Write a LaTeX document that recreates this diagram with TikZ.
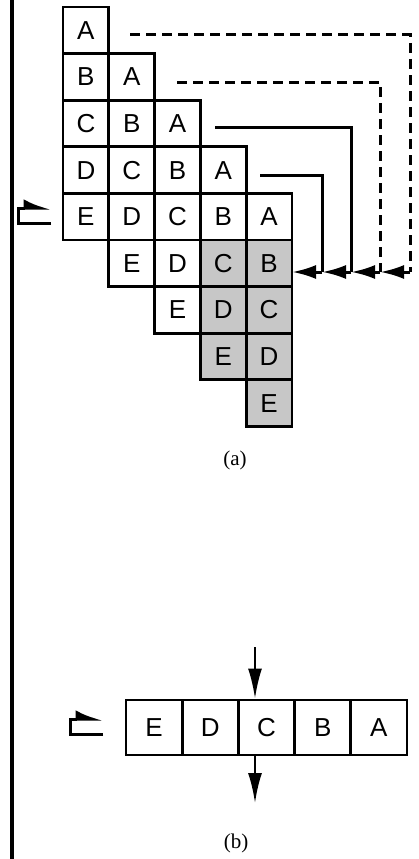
\documentclass[tikz,border=0pt]{standalone}
\usepackage{fontspec}
\setmainfont{Liberation Sans}
\newfontfamily\capfont{Liberation Serif}
\usetikzlibrary{arrows.meta}

\begin{document}
\begin{tikzpicture}[x=1pt, y=-1pt, font=\fontsize{26}{30}\selectfont]
      \tikzset{cell/.style={draw, line width=2.8pt, minimum width=45.8pt, minimum height=46.6pt, inner sep=0pt},
               shaded cell/.style={cell, fill=black!22},
               wide cell/.style={cell, minimum width=56.2pt, minimum height=55pt},
               wire/.style={line width=3pt},
               feed/.style={-{Latex[length=24pt, width=14pt]}},
               loopback/.pic={\draw[line width=3pt, -{Latex[harpoon, length=22pt, width=18pt]}] (33,15) -- (0,15) -- (0,0) -- (33,0);}}
      \useasboundingbox (0,0) rectangle (419,859);

      % Left rule
      \draw[line width=3.5pt] (12,0) -- (12,859);

      % --- (a) staircase of cells ---
      \node[cell] (a00) at (85.9,30.3) {A};

      \node[cell] (a10) at (85.9,76.9) {B};
      \node[cell] (a11) at (131.7,76.9) {A};

      \node[cell] (a20) at (85.9,123.5) {C};
      \node[cell] (a21) at (131.7,123.5) {B};
      \node[cell] (a22) at (177.5,123.5) {A};

      \node[cell] (a30) at (85.9,170.1) {D};
      \node[cell] (a31) at (131.7,170.1) {C};
      \node[cell] (a32) at (177.5,170.1) {B};
      \node[cell] (a33) at (223.3,170.1) {A};

      \node[cell] (a40) at (85.9,216.7) {E};
      \node[cell] (a41) at (131.7,216.7) {D};
      \node[cell] (a42) at (177.5,216.7) {C};
      \node[cell] (a43) at (223.3,216.7) {B};
      \node[cell] (a44) at (269.1,216.7) {A};

      \node[cell] (a51) at (131.7,263.3) {E};
      \node[cell] (a52) at (177.5,263.3) {D};
      \node[shaded cell] (a53) at (223.3,263.3) {C};
      \node[shaded cell] (a54) at (269.1,263.3) {B};

      \node[cell] (a62) at (177.5,309.9) {E};
      \node[shaded cell] (a63) at (223.3,309.9) {D};
      \node[shaded cell] (a64) at (269.1,309.9) {C};

      \node[shaded cell] (a73) at (223.3,356.5) {E};
      \node[shaded cell] (a74) at (269.1,356.5) {D};

      \node[shaded cell] (a84) at (269.1,403.1) {E};

      % Return mark in front of the full row
      \pic at (18,208) {loopback};

      % Feedback wires
      \coordinate (in0) at (130,35);  \coordinate (k0) at (410,35);  \coordinate (j0) at (410,272);
      \coordinate (in1) at (177,82);  \coordinate (k1) at (380,82);  \coordinate (j1) at (380,272);
      \coordinate (in2) at (215,127); \coordinate (k2) at (351,127); \coordinate (j2) at (351,272);
      \coordinate (in3) at (260,175); \coordinate (k3) at (322,175); \coordinate (j3) at (322,272);
      \coordinate (j4) at (292,272);

      \draw[wire, dash pattern=on 10pt off 6pt] (in0) -- (k0) -- (j0);
      \draw[wire, dash pattern=on 10pt off 6pt] (in1) -- (k1) -- (j1);
      \draw[wire] (in2) -- (k2) -- (j2);
      \draw[wire] (in3) -- (k3) -- (j3);

      % Merging line into B
      \draw[wire, feed] (j0) -- (j1);
      \draw[wire, feed] (j1) -- (j2);
      \draw[wire, feed] (j2) -- (j3);
      \draw[wire, feed] (j3) -- (j4);

      \node[font=\capfont\fontsize{21}{25}\selectfont] (capa) at (235,460) {(a)};

      % --- (b) single row ---
      \node[wide cell] (b0) at (154.1,727.5) {E};
      \node[wide cell] (b1) at (210.3,727.5) {D};
      \node[wide cell] (b2) at (266.5,727.5) {C};
      \node[wide cell] (b3) at (322.7,727.5) {B};
      \node[wide cell] (b4) at (378.9,727.5) {A};

      \pic at (70,719) {loopback};

      % In and out of C
      \coordinate (fin) at (255,647);
      \coordinate (fout) at (255,803);
      \draw[wire, line width=2.4pt, -{Latex[length=30pt, width=14pt]}] (fin) -- (fin |- b2.north);
      \draw[wire, line width=2.4pt, -{Latex[length=30pt, width=14pt]}] (fout |- b2.south) -- (fout);

      \node[font=\capfont\fontsize{21}{25}\selectfont] (capb) at (236,843) {(b)};

    \end{tikzpicture}
\end{document}
